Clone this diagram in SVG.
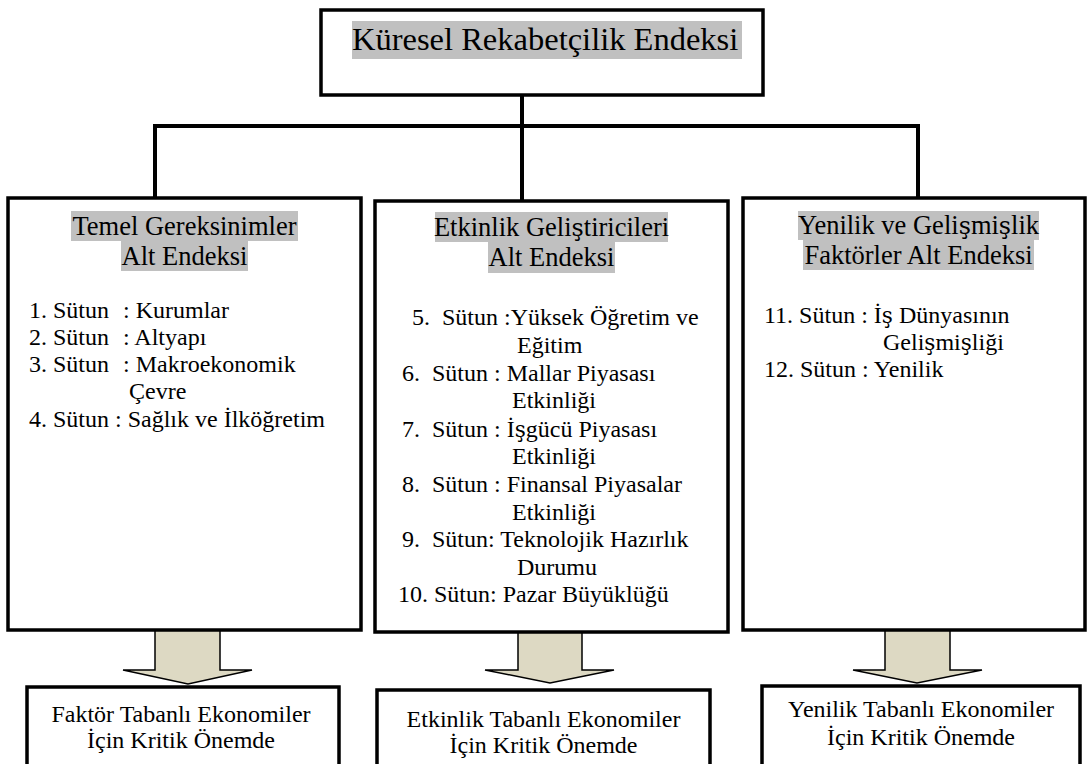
<svg xmlns="http://www.w3.org/2000/svg" width="1090" height="764" viewBox="0 0 1090 764">
  <style>
    .box { fill: #ffffff; stroke: #000000; stroke-width: 3.5; }
    .wire { fill: none; stroke: #000000; stroke-width: 4; }
    .flow { fill: #DDD9C3; stroke: #000000; stroke-width: 1.5; stroke-linejoin: miter; }
    .hl { fill: #C0C0C0; }
    text { fill: #000000; font-family: "Liberation Serif", serif; }
    .title { font-size: 32.5px; }
    .head { font-size: 26.5px; text-anchor: middle; }
    .item { font-size: 24px; }
    .foot { font-size: 24px; text-anchor: middle; }
    .sh { font-family: "DejaVu Serif", serif; font-size: 0.9em; }
  </style>

  <!-- tree lines and downward arrows -->
  <g id="connectors">
    <path class="wire" d="M522,95 V201"/>
    <path class="wire" d="M155,198 V126 H918 V198"/>
    <polygon class="flow" points="155,630 220,630 220,670 252,670 188,684 123,670 155,670"/>
    <polygon class="flow" points="518,632 582,632 582,670 614,670 550,683 485,670 518,670"/>
    <polygon class="flow" points="885,630 950,630 950,670 982,670 917,683 853,670 885,670"/>
  </g>

  <!-- root -->
  <g id="root">
    <rect class="box" x="321" y="10" width="442" height="85"/>
    <rect class="hl" x="352" y="21" width="390" height="38"/>
    <text class="title" x="352" y="50">Küresel Rekabetçilik Endeksi</text>
  </g>

  <!-- basic requirements -->
  <g id="basic">
    <rect class="box" x="8" y="198" width="353" height="432"/>
    <rect class="hl" x="71" y="211" width="227" height="30"/>
    <rect class="hl" x="121" y="241" width="127" height="30"/>
    <text class="head" x="184.5" y="234.5">Temel Gereksinimler</text>
    <text class="head" x="184.5" y="264.5">Alt Endeksi</text>
    <text class="item" x="29" y="318">1. Sütun</text>
    <text class="item" x="123" y="318">: Kurumlar</text>
    <text class="item" x="29" y="345">2. Sütun</text>
    <text class="item" x="123" y="345">: Altyapı</text>
    <text class="item" x="29" y="372">3. Sütun</text>
    <text class="item" x="123" y="372">: Makroekonomik</text>
    <text class="item" x="129" y="399">Çevre</text>
    <text class="item" x="29" y="427">4. Sütun : Sağlık ve İlköğretim</text>
  </g>

  <!-- efficiency enhancers -->
  <g id="efficiency">
    <rect class="box" x="375" y="201" width="353" height="431"/>
    <rect class="hl" x="435" y="212" width="233" height="30"/>
    <rect class="hl" x="488" y="242" width="127" height="31"/>
    <text class="head" x="551.5" y="235.5">Etkinlik Geli<tspan class="sh">ş</tspan>tiricileri</text>
    <text class="head" x="551.5" y="265.5">Alt Endeksi</text>
    <text class="item" x="412" y="325" xml:space="preserve">5.  Sütun :Yüksek Öğretim ve</text>
    <text class="item" x="517" y="353">Eğitim</text>
    <text class="item" x="402" y="381" xml:space="preserve">6.  Sütun : Mallar Piyasası</text>
    <text class="item" x="512" y="408">Etkinliği</text>
    <text class="item" x="402" y="437" xml:space="preserve">7.  Sütun : İ<tspan class="sh">ş</tspan>gücü Piyasası</text>
    <text class="item" x="512" y="464">Etkinliği</text>
    <text class="item" x="402" y="492" xml:space="preserve">8.  Sütun : Finansal Piyasalar</text>
    <text class="item" x="512" y="520">Etkinliği</text>
    <text class="item" x="402" y="547" xml:space="preserve">9.  Sütun: Teknolojik Hazırlık</text>
    <text class="item" x="517" y="575">Durumu</text>
    <text class="item" x="398" y="602">10. Sütun: Pazar Büyüklüğü</text>
  </g>

  <!-- innovation and sophistication -->
  <g id="innovation">
    <rect class="box" x="743" y="198" width="342" height="432"/>
    <rect class="hl" x="798" y="211" width="241" height="29"/>
    <rect class="hl" x="803" y="240" width="231" height="30"/>
    <text class="head" x="918.5" y="234">Yenilik ve Geli<tspan class="sh">ş</tspan>mi<tspan class="sh">ş</tspan>lik</text>
    <text class="head" x="918.5" y="264">Faktörler Alt Endeksi</text>
    <text class="item" x="764" y="323">11. Sütun : İ<tspan class="sh">ş</tspan> Dünyasının</text>
    <text class="item" x="883" y="350">Geli<tspan class="sh">ş</tspan>mi<tspan class="sh">ş</tspan>liği</text>
    <text class="item" x="764" y="377">12. Sütun : Yenilik</text>
  </g>

  <!-- outcome boxes -->
  <g id="factor-driven">
    <rect class="box" x="27" y="687" width="312" height="90"/>
    <text class="foot" x="181" y="722">Faktör Tabanlı Ekonomiler</text>
    <text class="foot" x="181" y="748">İçin Kritik Önemde</text>
  </g>
  <g id="efficiency-driven">
    <rect class="box" x="377" y="690" width="333" height="90"/>
    <text class="foot" x="543.5" y="727">Etkinlik Tabanlı Ekonomiler</text>
    <text class="foot" x="543.5" y="753">İçin Kritik Önemde</text>
  </g>
  <g id="innovation-driven">
    <rect class="box" x="762" y="686" width="318" height="90"/>
    <text class="foot" x="921" y="717">Yenilik Tabanlı Ekonomiler</text>
    <text class="foot" x="921" y="745">İçin Kritik Önemde</text>
  </g>
</svg>
